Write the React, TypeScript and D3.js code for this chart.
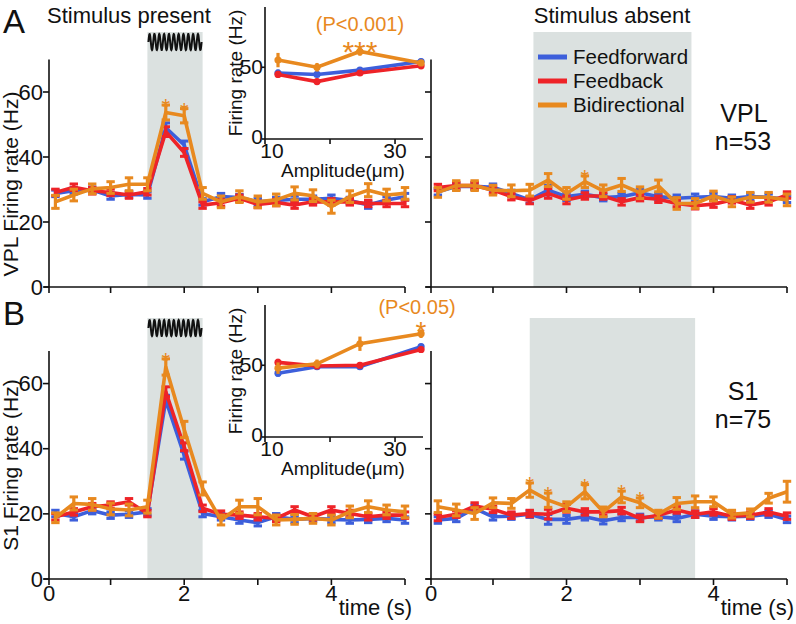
import React, { useEffect, useRef } from 'react';
import * as d3 from 'd3';

// time bins (s)
const times = [0.25, 0.5, 0.75, 1, 1.25, 1.5, 1.75, 2, 2.25, 2.5, 2.75, 3, 3.25, 3.5, 3.75, 4, 4.25, 4.5, 4.75, 5];

// VPL, stimulus present
const vplPresentFF = [28.8, 29.6, 29.8, 28.0, 28.5, 28.3, 49.0, 43.7, 26.2, 27.8, 27.5, 26.2, 26.6, 27.0, 27.0, 27.3, 26.6, 25.2, 26.8, 27.8];
const vplPresentFB = [29.1, 30.7, 29.6, 29.1, 28.3, 29.3, 47.8, 41.4, 25.2, 25.9, 27.3, 25.4, 26.0, 25.2, 26.2, 26.2, 26.2, 25.7, 25.7, 25.7];
const vplPresentBi = [26.2, 28.3, 30.2, 30.6, 31.6, 31.6, 53.7, 52.7, 28.8, 26.2, 27.8, 26.2, 26.8, 28.8, 28.1, 24.7, 27.8, 29.8, 28.3, 28.8];
const vplPresentBiErr = [2, 1.8, 1.5, 1.8, 2, 2, 2.3, 2.2, 1.8, 1.8, 1.8, 1.8, 1.8, 2, 1.8, 2, 1.8, 2, 1.8, 1.8];
const vplPresentStars = [6, 7];

// VPL, stimulus absent
const vplAbsentFF = [29.3, 30.9, 31.0, 30.7, 28.8, 26.8, 29.8, 27.8, 28.5, 27.5, 27.8, 29.0, 27.8, 27.3, 27.6, 27.8, 27.3, 27.8, 27.6, 27.0];
const vplAbsentFB = [30.6, 31.2, 31.2, 29.8, 27.8, 26.6, 28.8, 26.8, 28.0, 28.0, 26.2, 27.5, 27.0, 25.7, 25.0, 25.5, 26.8, 25.2, 26.2, 28.3];
const vplAbsentBi = [29.1, 31.2, 31.2, 29.8, 29.6, 29.8, 32.9, 28.8, 32.4, 29.6, 31.4, 29.0, 31.1, 25.7, 25.7, 28.0, 26.2, 27.6, 27.6, 26.8];
const vplAbsentBiErr = [1.5, 1.5, 1.5, 1.5, 1.8, 1.8, 2, 1.8, 1.8, 1.8, 2, 1.8, 1.8, 1.8, 1.5, 1.5, 1.5, 1.5, 1.5, 1.8];
const vplAbsentStars = [8];

// S1, stimulus present
const s1PresentFF = [20.1, 19.1, 21.0, 19.6, 19.9, 20.6, 54.9, 38.0, 20.1, 19.1, 18.1, 17.3, 19.1, 18.3, 18.6, 18.3, 18.1, 18.3, 18.6, 18.1];
const s1PresentFB = [19.1, 20.6, 22.2, 22.7, 23.7, 20.1, 57.5, 40.6, 21.7, 19.9, 19.6, 19.1, 18.6, 21.2, 19.1, 21.2, 20.1, 19.1, 19.6, 19.6];
const s1PresentBi = [18.8, 23.2, 22.9, 21.5, 21.2, 22.2, 65.1, 45.9, 27.8, 18.1, 22.2, 22.2, 18.1, 18.3, 18.6, 18.1, 20.6, 22.2, 21.2, 20.6];
const s1PresentBiErr = [1.5, 2, 1.8, 1.8, 1.8, 2, 2.5, 2.5, 2, 1.5, 2, 2.5, 1.5, 1.5, 1.5, 1.5, 1.8, 1.8, 1.5, 1.8];
const s1PresentStars = [6];

// S1, stimulus absent
const s1AbsentFF = [18.1, 18.6, 21.7, 19.1, 19.3, 19.9, 18.3, 18.3, 19.1, 17.9, 18.9, 18.9, 19.1, 18.6, 19.9, 19.3, 19.1, 19.3, 19.9, 18.3];
const s1AbsentFB = [18.9, 19.9, 22.4, 21.4, 19.6, 20.1, 19.9, 21.7, 20.6, 20.6, 21.0, 18.6, 19.6, 21.2, 19.9, 20.6, 19.3, 19.6, 20.6, 19.3];
const s1AbsentBi = [22.2, 21.2, 20.1, 23.4, 23.2, 27.3, 24.2, 22.2, 26.8, 20.6, 25.2, 23.4, 19.9, 23.2, 23.7, 23.7, 19.9, 20.3, 24.8, 26.8];
const s1AbsentBiErr = [1.8, 1.8, 1.8, 1.5, 1.5, 2.2, 2.2, 1.5, 2.2, 1.5, 1.8, 1.5, 1.2, 1.8, 1.8, 1.5, 1.2, 1.2, 1.5, 3.2];
const s1AbsentStars = [5, 6, 8, 10, 11];

// small errors of feedforward / feedback
const smallErr = [1, 1, 1, 1, 1, 1, 1.5, 1.2, 1, 1, 1, 1, 1, 1, 1, 1, 1, 1, 1, 1];

// insets: amplitude tuning
const ampl = [12, 18, 24.6, 34];
const vplAmpFF = [46, 45, 48, 54];
const vplAmpFB = [45, 40, 46, 51];
const vplAmpBi = [55, 50, 61, 53];
const vplAmpBiErr = [5, 3, 3, 2];
const s1AmpFF = [44.5, 49, 49, 63];
const s1AmpFB = [52, 49.5, 50, 61];
const s1AmpBi = [48, 51, 65, 72];
const s1AmpBiErr = [4, 3, 5, 3];
const ampErr = [2.5, 2, 2, 2];

const legendNames = ['Feedforward', 'Feedback', 'Bidirectional'];

const C_FF = '#3d5fdb';
const C_FB = '#ee2328';
const C_BI = '#e8891f';
const GRAY = '#dbe1e0';
const FONT = '"Liberation Sans", Arial, Helvetica, sans-serif';

function addText(g, x, y, str, size, opts: any = {}) {
  const t = g.append('text')
    .attr('x', x).attr('y', y)
    .attr('font-family', FONT)
    .attr('font-size', size)
    .attr('fill', opts.fill || '#111')
    .attr('text-anchor', opts.anchor || 'start')
    .text(str);
  if (opts.rotate) t.attr('transform', `rotate(${opts.rotate},${x},${y})`);
  return t;
}

function drawTimePanel(svg, cfg) {
  const x = d3.scaleLinear().domain([0, 5]).range(cfg.xRange);
  const y = d3.scaleLinear().domain([0, 70]).range(cfg.yRange);
  const g = svg.append('g');

  // stimulus window
  g.append('rect')
    .attr('x', x(cfg.stim[0]))
    .attr('width', x(cfg.stim[1]) - x(cfg.stim[0]))
    .attr('y', cfg.boxTop)
    .attr('height', y(0) - cfg.boxTop)
    .attr('fill', GRAY);

  if (cfg.wave) {
    const x0 = x(cfg.stim[0]) + 1, x1 = x(cfg.stim[1]) - 1;
    const pts = d3.range(0, 1.0001, 0.004).map(f => [x0 + f * (x1 - x0), cfg.boxTop + 10 - 8 * Math.sin(f * 11 * 2 * Math.PI)]);
    g.append('path')
      .attr('d', d3.line()(pts as any))
      .attr('fill', 'none').attr('stroke', '#111').attr('stroke-width', 2);
  }

  // axes
  const xs = cfg.axisStart;
  const axis = g.append('g').attr('stroke', '#111').attr('stroke-width', 1.6);
  axis.append('line').attr('x1', xs).attr('x2', xs).attr('y1', y(0)).attr('y2', y(70));
  axis.append('line').attr('x1', xs - 5).attr('x2', x(5)).attr('y1', y(0)).attr('y2', y(0));
  [0, 20, 40, 60].forEach(v => {
    axis.append('line').attr('x1', xs - 6).attr('x2', xs).attr('y1', y(v)).attr('y2', y(v));
    if (cfg.yLabels) addText(g, xs - 6, y(v) + 7.5, String(v), 22, { anchor: 'end' });
  });
  const xt = [xs, x(1), x(2), x(3), x(4), x(5)];
  const xl = ['0', '', '2', '', '4', ''];
  xt.forEach((px, i) => {
    axis.append('line').attr('x1', px).attr('x2', px).attr('y1', y(0)).attr('y2', y(0) + 6);
    if (cfg.xLabels && xl[i]) addText(g, px, y(0) + 22, xl[i], 22, { anchor: 'middle' });
  });
  if (cfg.xLabels) addText(g, x(5) + 7, y(0) + 36, 'time (s)', 22, { anchor: 'end' });

  // series
  cfg.series.forEach(s => {
    const sg = g.append('g');
    sg.append('path')
      .attr('d', d3.line<number>().x((d, i) => x(times[i])).y(d => y(d))(s.vals))
      .attr('fill', 'none').attr('stroke', s.color).attr('stroke-width', 3.6)
      .attr('stroke-linejoin', 'round');
    s.vals.forEach((v, i) => {
      const e = s.errs[i];
      const px = x(times[i]);
      sg.append('line').attr('x1', px).attr('x2', px).attr('y1', y(v - e)).attr('y2', y(v + e))
        .attr('stroke', s.color).attr('stroke-width', 3.2);
      [v - e, v + e].forEach(ev => {
        sg.append('line').attr('x1', px - 4.2).attr('x2', px + 4.2).attr('y1', y(ev)).attr('y2', y(ev))
          .attr('stroke', s.color).attr('stroke-width', 3);
      });
    });
  });

  // significance
  const bi = cfg.series[cfg.series.length - 1];
  cfg.stars.forEach(i => {
    addText(g, x(times[i]), y(bi.vals[i] + bi.errs[i]) + 9, '*', 22, { anchor: 'middle', fill: C_BI });
  });
}

function drawInset(svg, cfg) {
  const x = d3.scaleLinear().domain([10, 34.3]).range([265, 423]);
  const y = d3.scaleLinear().domain([0, 92]).range(cfg.yRange);
  const g = svg.append('g');
  const axis = g.append('g').attr('stroke', '#111').attr('stroke-width', 1.6);
  axis.append('line').attr('x1', x(10)).attr('x2', x(10)).attr('y1', y(0)).attr('y2', y(92));
  axis.append('line').attr('x1', x(10)).attr('x2', x(34.3)).attr('y1', y(0)).attr('y2', y(0));
  [0, 50].forEach(v => {
    axis.append('line').attr('x1', x(10) - 3).attr('x2', x(10)).attr('y1', y(v)).attr('y2', y(v));
    addText(g, x(10) - 2, y(v) + (v === 0 ? 5 : 7), String(v), 21, { anchor: 'end' });
  });
  [10, 20, 30].forEach(v => {
    axis.append('line').attr('x1', x(v)).attr('x2', x(v)).attr('y1', y(0)).attr('y2', y(0) + 5);
    if (v !== 20) addText(g, x(v) + (v === 10 ? 7 : 0), y(0) + 19, String(v), 21, { anchor: 'middle' });
  });
  addText(g, 343, y(0) + 38, 'Amplitude(\u03bcm)', 19, { anchor: 'middle' });
  addText(g, 242, (y(0) + y(92)) / 2, 'Firing rate (Hz)', 19, { anchor: 'middle', rotate: -90 });

  cfg.series.forEach(s => {
    const sg = g.append('g');
    sg.append('path')
      .attr('d', d3.line<number>().x((d, i) => x(ampl[i])).y(d => y(d))(s.vals))
      .attr('fill', 'none').attr('stroke', s.color).attr('stroke-width', 3.6);
    s.vals.forEach((v, i) => {
      const px = x(ampl[i]);
      sg.append('line').attr('x1', px).attr('x2', px).attr('y1', y(v - s.errs[i])).attr('y2', y(v + s.errs[i]))
        .attr('stroke', s.color).attr('stroke-width', 3.2);
      sg.append('circle').attr('cx', px).attr('cy', y(v)).attr('r', 3.6).attr('fill', s.color);
    });
  });

  const bi = cfg.series[cfg.series.length - 1];
  const i = cfg.star;
  const top = y(bi.vals[i] + bi.errs[i]);
  addText(g, x(ampl[i]), top + cfg.starDy, cfg.starText, cfg.starSize, { anchor: 'middle', fill: C_BI });
  addText(g, x(ampl[i]) + cfg.pDx, top + cfg.pDy, cfg.pText, 20, { anchor: 'middle', fill: C_BI });
}

function series(ff, fb, bi, biErr) {
  return [
    { vals: ff, errs: smallErr, color: C_FF },
    { vals: fb, errs: smallErr, color: C_FB },
    { vals: bi, errs: biErr, color: C_BI },
  ];
}

function draw(svg) {
  // ---------- panel A ----------
  addText(svg, 3, 33, 'A', 33);
  addText(svg, 47, 23, 'Stimulus present', 22);
  addText(svg, 612, 23, 'Stimulus absent', 22, { anchor: 'middle' });

  drawTimePanel(svg, {
    xRange: [37, 405], yRange: [287, 59.5], axisStart: 49, stim: [1.5, 2.25], boxTop: 32, wave: true,
    yLabels: true, xLabels: false, stars: vplPresentStars,
    series: series(vplPresentFF, vplPresentFB, vplPresentBi, vplPresentBiErr),
  });
  drawTimePanel(svg, {
    xRange: [419.5, 787], yRange: [287, 59.5], axisStart: 431, stim: [1.55, 3.7], boxTop: 32, wave: false,
    yLabels: false, xLabels: false, stars: vplAbsentStars,
    series: series(vplAbsentFF, vplAbsentFB, vplAbsentBi, vplAbsentBiErr),
  });
  addText(svg, 18, 184, 'VPL Firing rate (Hz)', 21, { anchor: 'middle', rotate: -90 });
  addText(svg, 744, 122, 'VPL', 25, { anchor: 'middle' });
  addText(svg, 743, 150, 'n=53', 25, { anchor: 'middle' });

  // legend
  const lg = svg.append('g');
  [C_FF, C_FB, C_BI].forEach((c, i) => {
    const yy = 57 + i * 24;
    lg.append('line').attr('x1', 538).attr('x2', 567).attr('y1', yy).attr('y2', yy).attr('stroke', c).attr('stroke-width', 5);
    addText(lg, 573, yy + 7, legendNames[i], 20.5);
  });

  drawInset(svg, {
    yRange: [139, 7], star: 2, starText: '***', starSize: 30, starDy: 15, pText: '(P<0.001)', pDx: 0, pDy: -16,
    series: [
      { vals: vplAmpFF, errs: ampErr, color: C_FF },
      { vals: vplAmpFB, errs: ampErr, color: C_FB },
      { vals: vplAmpBi, errs: vplAmpBiErr, color: C_BI },
    ],
  });

  // ---------- panel B ----------
  addText(svg, 3, 325, 'B', 33);
  drawTimePanel(svg, {
    xRange: [37, 405], yRange: [579, 351], axisStart: 49, stim: [1.5, 2.25], boxTop: 318, wave: true,
    yLabels: true, xLabels: true, stars: s1PresentStars,
    series: series(s1PresentFF, s1PresentFB, s1PresentBi, s1PresentBiErr),
  });
  drawTimePanel(svg, {
    xRange: [419.5, 787], yRange: [579, 351], axisStart: 431, stim: [1.5, 3.75], boxTop: 318, wave: false,
    yLabels: false, xLabels: true, stars: s1AbsentStars,
    series: series(s1AbsentFF, s1AbsentFB, s1AbsentBi, s1AbsentBiErr),
  });
  addText(svg, 18, 465, 'S1 Firing rate (Hz)', 21, { anchor: 'middle', rotate: -90 });
  addText(svg, 743, 400, 'S1', 25, { anchor: 'middle' });
  addText(svg, 743, 428, 'n=75', 25, { anchor: 'middle' });

  drawInset(svg, {
    yRange: [437, 305], star: 3, starText: '*', starSize: 28, starDy: 12, pText: '(P<0.05)', pDx: -4, pDy: -15,
    series: [
      { vals: s1AmpFF, errs: ampErr, color: C_FF },
      { vals: s1AmpFB, errs: ampErr, color: C_FB },
      { vals: s1AmpBi, errs: s1AmpBiErr, color: C_BI },
    ],
  });
}

export default function App() {
  const ref = useRef<SVGSVGElement>(null);
  useEffect(() => {
    const svg = d3.select(ref.current);
    svg.selectAll('*').remove();
    draw(svg);
  }, []);
  return (
    <svg ref={ref} width={796} height={624}
      style={{ position: 'absolute', left: 0, top: 0, background: '#fff' }} />
  );
}
